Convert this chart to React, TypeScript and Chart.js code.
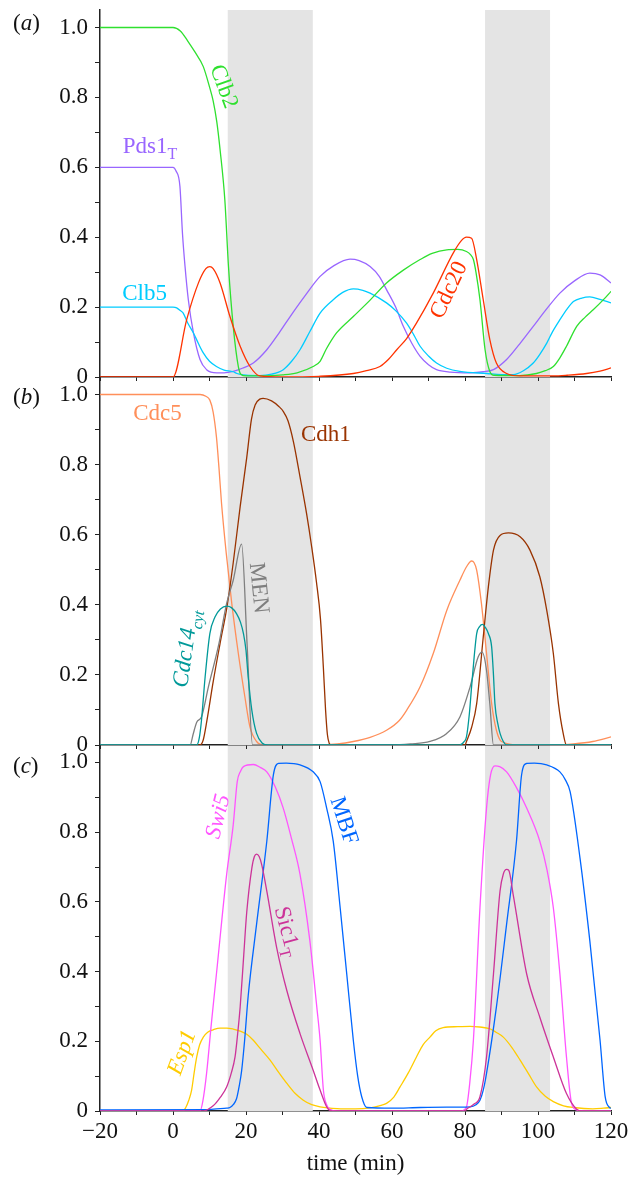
import { useEffect, useRef } from 'react';
import { Chart, registerables } from 'chart.js';

Chart.register(...registerables);

type Pt = [number, number];

// ---------- axis ranges & ticks ----------
const X_MIN = -20;
const X_MAX = 120;
const X_STEP = 10;
const Y_MIN = 0;
const Y_MAX = 1.05;
const yTickValues = [0, 0.1, 0.2, 0.3, 0.4, 0.5, 0.6, 0.7, 0.8, 0.9, 1.0];
const X_TITLE = 'time (min)';
const shadedBands: Pt[] = [[15, 38.3], [85.5, 103.3]];

// ---------- panel (a) ----------
const clb2: Pt[] = [
  [-20, 1], [0, 1], [2, 0.99], [4, 0.962], [6, 0.93], [8.3, 0.888], [10, 0.83], [11, 0.79], [12, 0.73],
  [12.9, 0.65], [14.2, 0.507], [15.2, 0.316], [16.5, 0.145], [17.9, 0.03], [18.6, 0.008], [20, 0.003],
  [25, 0.003], [30, 0.006], [34, 0.012], [38.4, 0.03], [40.3, 0.045], [42, 0.08], [44.8, 0.126],
  [49.4, 0.173], [54, 0.22], [58.5, 0.269], [63, 0.305], [67.7, 0.336], [71, 0.354], [75, 0.364],
  [78, 0.365], [80.4, 0.359], [81.5, 0.35], [82.3, 0.336], [83, 0.3], [84.1, 0.221], [85.5, 0.078],
  [86.8, 0.016], [88, 0.005], [95, 0.004], [99.6, 0.01], [102, 0.018], [104.2, 0.03], [106, 0.055],
  [107.8, 0.088], [110.6, 0.145], [113, 0.172], [115.2, 0.193], [118, 0.222], [120, 0.245],
];
const pds1T: Pt[] = [
  [-20, 0.6], [0, 0.6], [0.8, 0.59], [1.9, 0.545], [2.6, 0.41], [3.3, 0.316], [4.2, 0.221], [5.6, 0.126],
  [7.4, 0.05], [9.2, 0.021], [12, 0.012], [14, 0.012], [16.5, 0.016], [19, 0.025], [22, 0.04],
  [25.7, 0.078], [29, 0.125], [32.1, 0.173], [36, 0.23], [40.3, 0.288], [44, 0.318], [48.5, 0.337],
  [51, 0.333], [54, 0.316], [56.5, 0.288], [58.5, 0.25], [61, 0.2], [63.1, 0.145], [65.5, 0.095],
  [67.7, 0.059], [70, 0.035], [72.2, 0.021], [76, 0.014], [81.4, 0.012], [85, 0.015], [87.8, 0.021],
  [91.4, 0.05], [95, 0.095], [98.7, 0.145], [102, 0.19], [106, 0.24], [110, 0.275], [114.2, 0.297],
  [117, 0.292], [120, 0.269],
];
const clb5: Pt[] = [
  [-20, 0.2], [0, 0.2], [1, 0.198], [2, 0.19], [2.8, 0.183], [4, 0.155], [5.6, 0.126], [7, 0.095],
  [8.3, 0.069], [10, 0.045], [11.9, 0.03], [14, 0.02], [16.5, 0.015], [17.5, 0.01], [20, 0.005],
  [23.8, 0.004], [27, 0.008], [30.2, 0.021], [32.5, 0.045], [34.8, 0.078], [37.5, 0.13], [40.3, 0.183],
  [43.9, 0.221], [46.5, 0.242], [49.4, 0.252], [52, 0.248], [54, 0.24], [58.5, 0.212], [61, 0.19],
  [64, 0.154], [66, 0.12], [67.7, 0.088], [70, 0.06], [72.2, 0.04], [75, 0.025], [78.6, 0.016],
  [86, 0.01], [90, 0.007], [93.2, 0.007], [96, 0.018], [98.7, 0.04], [100.5, 0.065], [102.4, 0.097],
  [104, 0.13], [106, 0.164], [108, 0.195], [109.7, 0.216], [112, 0.226], [114.2, 0.229], [117, 0.222],
  [120, 0.212],
];
const cdc20: Pt[] = [
  [-20, 0], [0, 0], [3.75, 0.164], [7, 0.27], [9, 0.31], [10.1, 0.316], [11, 0.31], [12.9, 0.269],
  [15.6, 0.173], [18.4, 0.088], [21.1, 0.03], [23.8, 0.003], [30, 0], [40, 0.002], [49.4, 0.01],
  [53, 0.018], [56.7, 0.03], [59, 0.05], [61.3, 0.078], [64, 0.11], [66.7, 0.154], [71.3, 0.24],
  [76.8, 0.355], [79, 0.39], [80.4, 0.4], [81.8, 0.397], [83.2, 0.336], [85, 0.221], [86.8, 0.107],
  [88.6, 0.04], [91.4, 0.01], [95, 0.003], [104.2, 0.003], [108, 0.005], [113.3, 0.01], [117, 0.017],
  [120, 0.026],
];

// ---------- panel (b) ----------
const cdc5: Pt[] = [
  [-20, 1], [7.4, 1], [9, 0.995], [10.1, 0.984], [11, 0.95], [11.9, 0.879], [12.6, 0.79], [13.3, 0.689],
  [14.6, 0.546], [16.1, 0.404], [17.9, 0.261], [19.7, 0.137], [21.1, 0.051], [22.9, 0.01], [25, 0],
  [40, 0], [45, 0.003], [49.4, 0.01], [54, 0.022], [58.5, 0.042], [62, 0.07], [64, 0.099], [67.7, 0.166],
  [71.3, 0.261], [75, 0.384], [78.6, 0.47], [80.5, 0.51], [81.8, 0.525], [82.5, 0.52], [83.2, 0.499],
  [84.5, 0.404], [85.9, 0.261], [87.3, 0.118], [88.6, 0.042], [90, 0.01], [95, 0], [105, 0],
  [109.7, 0.003], [115, 0.01], [120, 0.023],
];
const cdh1: Pt[] = [
  [-20, 0], [7.4, 0], [8.3, 0.015], [9.3, 0.07], [11, 0.18], [12.9, 0.29], [14.8, 0.395], [16.5, 0.52],
  [18.4, 0.68], [20.2, 0.82], [21.5, 0.93], [22.5, 0.97], [23.8, 0.987], [24.7, 0.989], [27, 0.982],
  [29, 0.966], [30.2, 0.952], [31.5, 0.925], [33, 0.865], [34.8, 0.765], [36.6, 0.66], [38, 0.565],
  [39.3, 0.465], [40.4, 0.36], [41.2, 0.22], [41.8, 0.1], [42.3, 0.03], [42.8, 0.005], [43.3, 0],
  [80, 0], [80.4, 0.01], [81.8, 0.05], [83.2, 0.118], [85, 0.308], [86.4, 0.451], [87.8, 0.556],
  [89.6, 0.598], [91.9, 0.605], [95.1, 0.594], [97.8, 0.556], [100.5, 0.48], [102.4, 0.384],
  [104.2, 0.261], [105.6, 0.118], [106.9, 0.033], [107.8, 0], [120, 0],
];
const men: Pt[] = [
  [-20, 0], [4.7, 0], [5.5, 0.03], [6.5, 0.065], [7.8, 0.08], [9.7, 0.166], [12.6, 0.29], [14.7, 0.404],
  [16.5, 0.47], [18.8, 0.573], [20.3, 0.287], [21.8, 0], [60, 0], [65, 0.003], [70.4, 0.01], [75, 0.033],
  [78.6, 0.08], [81.4, 0.166], [83.6, 0.251], [84.7, 0.265], [85.9, 0.213], [86.8, 0.118], [87.8, 0],
  [120, 0],
];
const cdc14cyt: Pt[] = [
  [-20, 0], [6.5, 0], [7.2, 0.02], [7.8, 0.07], [8.8, 0.194], [10.1, 0.318], [11.5, 0.365], [13, 0.388],
  [14.7, 0.396], [16, 0.392], [17.4, 0.375], [18.5, 0.35], [19.3, 0.318], [20, 0.27], [20.6, 0.194],
  [21.6, 0.099], [22.9, 0.033], [24.5, 0.005], [26, 0], [78.6, 0], [79.8, 0.01], [80.4, 0.023],
  [81.2, 0.09], [81.8, 0.166], [82.5, 0.25], [83.2, 0.318], [84, 0.338], [84.8, 0.344], [85.6, 0.335],
  [86.4, 0.318], [87.3, 0.28], [87.8, 0.2], [88.2, 0.118], [89, 0.06], [89.6, 0.033], [90.5, 0.01],
  [91.4, 0], [120, 0],
];

// ---------- panel (c) ----------
const swi5: Pt[] = [
  [-20, 0], [7.4, 0], [8.2, 0.03], [9.2, 0.108], [10.5, 0.25], [11.9, 0.393], [14.7, 0.679],
  [16.5, 0.821], [17.6, 0.945], [18.5, 0.975], [19.3, 0.988], [22, 0.994], [24, 0.985], [25.7, 0.973],
  [28, 0.93], [30.2, 0.869], [32.5, 0.78], [34.8, 0.679], [37.5, 0.488], [39.4, 0.298], [40.3, 0.203],
  [41.2, 0.06], [42, 0.02], [43, 0.005], [45, 0], [79, 0], [80.4, 0.012], [81.3, 0.08], [82.3, 0.203],
  [84.1, 0.583], [85.9, 0.869], [87, 0.964], [88.2, 0.99], [89.5, 0.988], [91.4, 0.973], [94, 0.93],
  [96.9, 0.869], [100.5, 0.774], [102.5, 0.69], [104.2, 0.583], [106, 0.393], [107.8, 0.155],
  [109.2, 0.022], [110.6, 0.003], [112, 0], [120, 0],
];
const mbf: Pt[] = [
  [-20, 0.003], [10, 0.004], [11.9, 0.006], [14.7, 0.008], [15.6, 0.01], [16.5, 0.018], [17.4, 0.035],
  [18.2, 0.075], [18.8, 0.115], [19.6, 0.2], [20.6, 0.33], [22.9, 0.536], [25.7, 0.774], [27.5, 0.964],
  [28.9, 0.997], [31, 0.998], [34.8, 0.993], [38.4, 0.973], [40.3, 0.945], [42.1, 0.869], [43.9, 0.774],
  [45.8, 0.583], [47.6, 0.393], [49.4, 0.203], [50.6, 0.1], [51.7, 0.041], [53.1, 0.01], [60, 0.008],
  [67.7, 0.01], [75, 0.011], [81.4, 0.012], [83, 0.018], [84.1, 0.031], [85, 0.06], [85.9, 0.108],
  [88.6, 0.298], [91.4, 0.536], [94.1, 0.774], [95.5, 0.964], [96.9, 0.997], [99, 0.998], [102.4, 0.993],
  [106, 0.973], [107.5, 0.95], [108.8, 0.916], [111.5, 0.726], [114.2, 0.488], [117, 0.203],
  [118.4, 0.041], [119.6, 0.01], [120, 0.008],
];
const sic1T: Pt[] = [
  [-20, 0], [8.3, 0], [11, 0.015], [13, 0.04], [14.7, 0.069], [16, 0.11], [17, 0.155], [17.7, 0.22],
  [18.4, 0.298], [19.4, 0.45], [20.2, 0.57], [21.6, 0.697], [22.3, 0.73], [22.9, 0.737], [23.6, 0.73],
  [24.3, 0.707], [25.7, 0.631], [28.4, 0.469], [31.2, 0.345], [34.8, 0.222], [38.4, 0.117], [40.3, 0.06],
  [42.1, 0.012], [43.5, 0], [80, 0], [80.4, 0.005], [82.5, 0.02], [84.1, 0.041], [85.9, 0.155],
  [87.8, 0.393], [89.6, 0.631], [90.5, 0.68], [91.4, 0.693], [92, 0.69], [93.2, 0.621], [96.9, 0.393],
  [100.5, 0.269], [104.2, 0.155], [107.8, 0.05], [110.6, 0.005], [112, 0], [120, 0],
];
const esp1: Pt[] = [
  [-20, 0], [2.8, 0], [3.5, 0.01], [4.3, 0.03], [5.1, 0.06], [5.8, 0.11], [6.5, 0.155], [7.3, 0.19],
  [8.3, 0.212], [9.5, 0.226], [11, 0.233], [12.9, 0.238], [14.7, 0.238], [16.5, 0.235], [18.4, 0.229],
  [20.2, 0.22], [22, 0.203], [24, 0.178], [26.6, 0.146], [29, 0.11], [31.2, 0.079], [33.5, 0.05],
  [35.7, 0.031], [38, 0.018], [40.3, 0.012], [45, 0.007], [50, 0.006], [54, 0.009], [56.5, 0.015],
  [58.5, 0.022], [60.5, 0.04], [62.2, 0.069], [64.5, 0.11], [66.7, 0.155], [68.5, 0.19], [70.4, 0.212],
  [72, 0.23], [74, 0.239], [78, 0.242], [81.4, 0.243], [84, 0.241], [86.8, 0.236], [88.5, 0.226],
  [90.5, 0.212], [93, 0.18], [95.1, 0.146], [97.5, 0.105], [99.6, 0.069], [102, 0.042], [104.2, 0.027],
  [107, 0.015], [109.7, 0.01], [115, 0.006], [118, 0.008], [120, 0.01],
];

// ---------- styles ----------
const FONT = '"Liberation Serif", "Times New Roman", serif';
const C = {
  clb2: '#2fe02f', pds1: '#9966ff', clb5: '#00ccff', cdc20: '#ff3300',
  cdc5: '#ff8f5a', cdh1: '#993300', men: '#7f7f7f', cdc14: '#009999',
  swi5: '#ff55ff', mbf: '#0066ff', sic1: '#cc3399', esp1: '#ffcc00',
};

type Part = { t: string; sub?: boolean; italic?: boolean };
type Label = { parts: Part[]; x: number; y: number; rot: number; color: string; italic?: boolean };
type Series = { name: string; data: Pt[]; color: string };

const panels: {
  tag: string; tagDy: number; top: number; height: number; axisH: number; showX: boolean; z: number;
  series: Series[]; labels: Label[];
}[] = [
  {
    tag: 'a', tagDy: -5, top: 0, height: 390, axisH: 13, showX: false, z: 3,
    series: [
      { name: 'Cdc20', data: cdc20, color: C.cdc20 },
      { name: 'Clb2', data: clb2, color: C.clb2 },
      { name: 'Clb5', data: clb5, color: C.clb5 },
      { name: 'Pds1T', data: pds1T, color: C.pds1 },
    ],
    labels: [
      { parts: [{ t: 'Clb2' }], x: 14.2, y: 0.832, rot: 70, color: C.clb2 },
      { parts: [{ t: 'Pds1' }, { t: 'T', sub: true }], x: -6.3, y: 0.664, rot: 0, color: C.pds1 },
      { parts: [{ t: 'Clb5' }], x: -7.8, y: 0.242, rot: 0, color: C.clb5 },
      { parts: [{ t: 'Cdc20' }], x: 75.3, y: 0.25, rot: -65, color: C.cdc20 },
    ],
  },
  {
    tag: 'b', tagDy: 2, top: 367, height: 390, axisH: 12, showX: false, z: 2,
    series: [
      { name: 'Cdc14cyt', data: cdc14cyt, color: C.cdc14 },
      { name: 'MEN', data: men, color: C.men },
      { name: 'Cdh1', data: cdh1, color: C.cdh1 },
      { name: 'Cdc5', data: cdc5, color: C.cdc5 },
    ],
    labels: [
      { parts: [{ t: 'Cdc5' }], x: -4.25, y: 0.948, rot: 0, color: C.cdc5 },
      { parts: [{ t: 'Cdh1' }], x: 41.9, y: 0.889, rot: 0, color: C.cdh1 },
      { parts: [{ t: 'MEN' }], x: 23.8, y: 0.448, rot: 84, color: C.men },
      { parts: [{ t: 'Cdc14' }, { t: 'cyt', sub: true }], x: 3.3, y: 0.276, rot: -82, color: C.cdc14, italic: true },
    ],
  },
  {
    tag: 'c', tagDy: 3, top: 735, height: 443, axisH: 67, showX: true, z: 1,
    series: [
      { name: 'Sic1T', data: sic1T, color: C.sic1 },
      { name: 'MBF', data: mbf, color: C.mbf },
      { name: 'Swi5', data: swi5, color: C.swi5 },
      { name: 'Esp1', data: esp1, color: C.esp1 },
    ],
    labels: [
      { parts: [{ t: 'Swi5' }], x: 12.05, y: 0.846, rot: -76, color: C.swi5, italic: true },
      { parts: [{ t: 'MBF' }], x: 47.1, y: 0.834, rot: 72, color: C.mbf },
      { parts: [{ t: 'Sic1' }, { t: 'T', sub: true }], x: 31.6, y: 0.516, rot: 75, color: C.sic1 },
      { parts: [{ t: 'Esp1' }], x: 2.2, y: 0.169, rot: -70, color: C.esp1, italic: true },
    ],
  },
];

function drawRich(ctx: CanvasRenderingContext2D, parts: Part[], cx: number, cy: number, rot: number,
  color: string, italicAll: boolean, size: number, align: 'center' | 'left' = 'center') {
  ctx.save();
  ctx.translate(cx, cy);
  ctx.rotate((rot * Math.PI) / 180);
  ctx.fillStyle = color;
  ctx.textBaseline = 'alphabetic';
  ctx.textAlign = 'left';
  const fontOf = (p: Part) =>
    `${italicAll || p.italic ? 'italic ' : ''}${p.sub ? Math.round(size * 0.7) : size}px ${FONT}`;
  let total = 0;
  const ws = parts.map((p) => {
    ctx.font = fontOf(p);
    const w = ctx.measureText(p.t).width;
    total += w;
    return w;
  });
  let xx = align === 'center' ? -total / 2 : 0;
  const base = size * 0.33;
  parts.forEach((p, i) => {
    ctx.font = fontOf(p);
    ctx.fillText(p.t, xx, base + (p.sub ? size * 0.28 : 0));
    xx += ws[i];
  });
  ctx.restore();
}

function fmtX(v: number) {
  const r = Math.round(v);
  if (r % 20 !== 0) return '';
  return r < 0 ? '\u2212' + Math.abs(r) : String(r);
}
function fmtY(v: number) {
  const r = Math.round(v * 10);
  if (r % 2 !== 0) return '';
  return r === 0 ? '0' : (r / 10).toFixed(1);
}

function makeChart(canvas: HTMLCanvasElement, p: (typeof panels)[number]) {
  const tickFont = { family: FONT, size: 23 };
  const annot = {
    id: 'annot' + p.tag,
    beforeDatasetsDraw(chart: any) {
      const { ctx, chartArea, scales } = chart;
      ctx.save();
      ctx.fillStyle = '#e4e4e4';
      shadedBands.forEach(([a, b]) => {
        const x0 = scales.x.getPixelForValue(a);
        const x1 = scales.x.getPixelForValue(b);
        ctx.fillRect(x0, chartArea.top, x1 - x0, chartArea.bottom - chartArea.top);
      });
      ctx.restore();
    },
    afterDatasetsDraw(chart: any) {
      const { ctx, scales } = chart;
      p.labels.forEach((l) => {
        drawRich(ctx, l.parts, scales.x.getPixelForValue(l.x), scales.y.getPixelForValue(l.y), l.rot,
          l.color, !!l.italic, 23);
      });
    },
    afterDraw(chart: any) {
      const { ctx, scales } = chart;
      drawRich(ctx, [{ t: '(' }, { t: p.tag, italic: true }, { t: ')' }], 13,
        scales.y.getPixelForValue(1.0) + p.tagDy, 0, '#111', false, 23, 'left');
    },
  };

  return new Chart(canvas, {
    type: 'line',
    data: {
      datasets: p.series.map((s) => ({
        label: s.name,
        data: s.data.map(([x, y]) => ({ x, y })),
        borderColor: s.color,
        backgroundColor: s.color,
        borderWidth: 1.3,
        pointRadius: 0,
        fill: false,
        cubicInterpolationMode: 'monotone' as const,
      })),
    },
    options: {
      responsive: false,
      animation: false,
      devicePixelRatio: 1,
      layout: { padding: { left: 0, right: 31, top: 10, bottom: 0 } },
      plugins: { legend: { display: false }, tooltip: { enabled: false } },
      scales: {
        x: {
          type: 'linear',
          min: X_MIN,
          max: X_MAX,
          ticks: {
            stepSize: X_STEP,
            autoSkip: false,
            maxRotation: 0,
            padding: 3,
            color: '#111',
            font: tickFont,
            callback: (v: any) => (p.showX ? fmtX(Number(v)) : ''),
          },
          grid: { drawOnChartArea: false, drawTicks: true, tickLength: 4, color: '#222', lineWidth: 1 },
          border: { display: true, color: '#222', width: 1.5 },
          title: { display: p.showX, text: X_TITLE, color: '#111', font: tickFont, padding: 0 },
          afterFit: (s: any) => {
            s.height = p.axisH;
            s.paddingLeft = 0;
            s.paddingRight = 0;
          },
        },
        y: {
          type: 'linear',
          min: Y_MIN,
          max: Y_MAX,
          afterBuildTicks: (s: any) => {
            s.ticks = yTickValues.map((value) => ({ value }));
          },
          ticks: {
            autoSkip: false,
            padding: 7,
            color: '#111',
            font: tickFont,
            callback: (v: any) => fmtY(Number(v)),
          },
          grid: { drawOnChartArea: false, drawTicks: true, tickLength: 5, color: '#222', lineWidth: 1 },
          border: { display: true, color: '#222', width: 1.5 },
          afterFit: (s: any) => {
            s.width = 100;
            s.paddingTop = 0;
            s.paddingBottom = 0;
          },
        },
      },
    } as any,
    plugins: [annot],
  });
}

function Panel({ p }: { p: (typeof panels)[number] }) {
  const ref = useRef<HTMLCanvasElement>(null);
  useEffect(() => {
    if (!ref.current) return;
    const chart = makeChart(ref.current, p);
    return () => chart.destroy();
  }, [p]);
  return (
    <canvas
      ref={ref}
      width={642}
      height={p.height}
      style={{ position: 'absolute', left: 0, top: p.top, width: 642, height: p.height, zIndex: p.z }}
    />
  );
}

export default function App() {
  return (
    <div style={{ position: 'absolute', left: 0, top: 0, width: 642, height: 1178, background: '#fff' }}>
      {panels.map((p) => (
        <Panel key={p.tag} p={p} />
      ))}
    </div>
  );
}
